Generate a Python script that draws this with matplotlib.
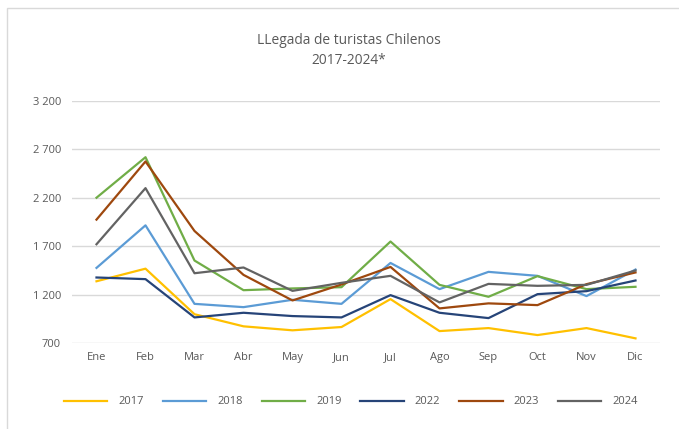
import matplotlib.pyplot as plt
from matplotlib.patches import Rectangle
from matplotlib.ticker import FuncFormatter

plt.rcParams["font.family"] = ["Open Sans", "DejaVu Sans"]

months = ["Ene", "Feb", "Mar", "Abr", "May", "Jun",
          "Jul", "Ago", "Sep", "Oct", "Nov", "Dic"]

y2017 = [1340, 1470, 1000, 875, 834, 868, 1156, 826, 857, 785, 857, 751]
y2018 = [1478, 1917, 1107, 1073, 1149, 1107, 1529, 1259, 1437, 1396, 1187, 1461]
y2019 = [2202, 2620, 1554, 1248, 1266, 1279, 1750, 1303, 1180, 1393, 1259, 1283]
y2022 = [1379, 1362, 967, 1015, 981, 967, 1197, 1015, 960, 1207, 1238, 1348]
y2023 = [1976, 2576, 1859, 1406, 1142, 1307, 1488, 1060, 1112, 1094, 1310, 1431]
y2024 = [1722, 2301, 1423, 1482, 1241, 1324, 1396, 1122, 1313, 1293, 1303, 1451]

series = [
    ("2017", y2017, "#FFC000"),
    ("2018", y2018, "#5B9BD5"),
    ("2019", y2019, "#70AD47"),
    ("2022", y2022, "#264478"),
    ("2023", y2023, "#9E480E"),
    ("2024", y2024, "#636363"),
]

yticks = [700, 1200, 1700, 2200, 2700, 3200]
text_col = "#595959"

fig = plt.figure(figsize=(6.79, 4.29), dpi=100)
ax = fig.add_axes([72 / 679, 1 - 343.3 / 429, 588 / 679, 242.3 / 429])

# chart frame
fig.patches.append(Rectangle((7 / 679, -0.05), 1.0, 1 - 8 / 429 + 0.05,
                             transform=fig.transFigure, fill=False,
                             edgecolor="#d9d9d9", linewidth=1.0))

x = list(range(len(months)))
for name, vals, col in series:
    ax.plot(x, vals, color=col, linewidth=1.6, label=name)

ax.set_xlim(-0.5, len(months) - 0.5)
ax.set_ylim(700, 3200)
ax.set_xticks(x)
ax.set_xticklabels(months)
ax.set_yticks(yticks)
ax.yaxis.set_major_formatter(FuncFormatter(lambda v, p: f"{int(v):,}".replace(",", " ")))
ax.tick_params(axis="both", length=0, labelsize=8, colors=text_col, pad=6)
ax.tick_params(axis="y", pad=8)
ax.grid(axis="y", color="#d9d9d9", linewidth=1.0)
ax.set_axisbelow(True)
for s in ax.spines.values():
    s.set_visible(False)

fig.text(349 / 679, 1 - 40 / 429, "LLegada de turistas Chilenos", ha="center", va="center",
         fontsize=9.9, color=text_col)
fig.text(349 / 679, 1 - 60 / 429, "2017-2024*", ha="center", va="center",
         fontsize=9.9, color=text_col)

fig.legend(loc="center", bbox_to_anchor=(351 / 679, 1 - 402 / 429), ncol=6, frameon=False,
           fontsize=8, handlelength=3.9, columnspacing=1.7, handletextpad=1.0,
           labelcolor=text_col)

fig.savefig("out.png", dpi=100)
